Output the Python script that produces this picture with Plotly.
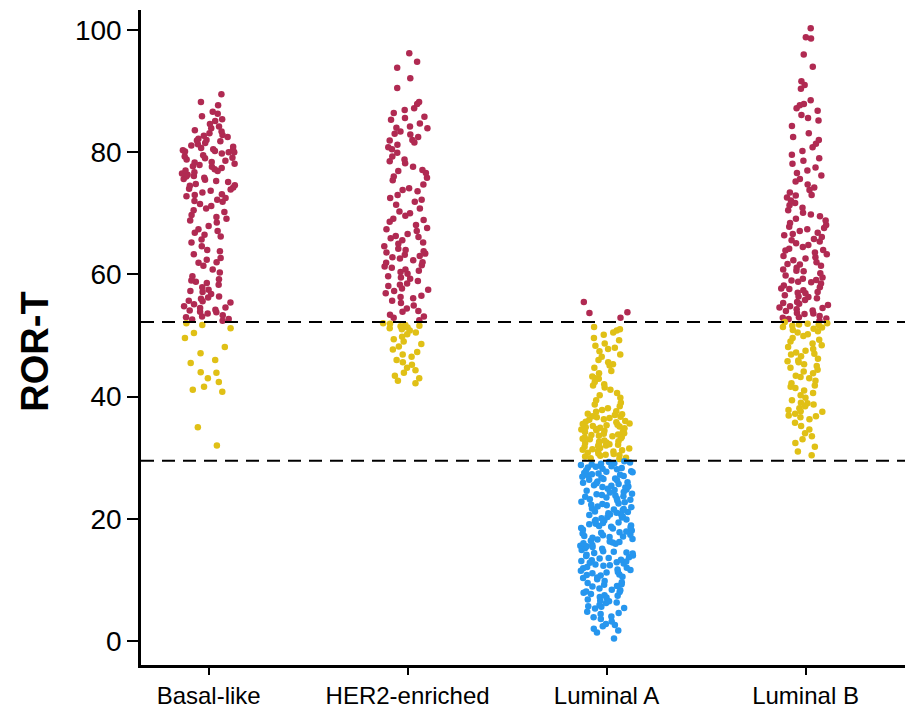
import plotly.graph_objects as go

categories = ["Basal-like", "HER2-enriched", "Luminal A", "Luminal B"]

basal_high = [89.5, 88.2, 87.7, 86.6, 86.3, 85.9, 85.4, 85.1,
              84.6, 84.2, 83.9, 83.6, 83.1, 82.8, 82.5, 82.2, 82.0, 81.8, 81.5, 81.3, 81.1, 80.9, 80.7, 80.5,
              80.3, 80.2, 80.0, 80.0, 80.1, 80.4, 81.9, 82.7, 83.4,
              79.8, 79.5, 79.3, 79.0, 78.8, 78.6, 78.3, 78.1, 77.9, 77.6, 77.4, 77.2, 77.0, 76.7, 76.5, 76.3,
              76.0, 75.8, 75.5, 75.3, 75.1, 79.1, 78.4, 77.7, 76.9, 76.1, 75.6,
              74.8, 74.5, 74.2, 74.0, 73.7, 73.4, 73.1, 72.8, 72.5, 72.2, 71.9, 71.5, 71.2, 70.8, 70.5, 70.2,
              74.6, 73.9, 73.0, 72.0,
              69.7, 69.1, 68.5, 67.9, 67.4, 66.8, 66.2, 65.7, 65.2, 68.8, 67.1, 69.4, 66.5,
              64.6, 64.0, 63.3, 62.7, 62.0, 61.4, 60.8, 60.3, 63.8, 61.9, 62.4,
              59.7, 59.2, 58.8, 58.3, 57.9, 57.5, 57.1, 56.8, 56.4, 56.0, 55.7, 55.4, 55.1, 58.6, 57.3, 56.2,
              55.6, 59.0,
              54.8, 54.5, 54.2, 53.9, 53.6, 53.3, 53.0, 52.7, 52.4, 54.6, 53.8, 53.1, 52.6, 54.1]
basal_mid = [52.0, 51.7, 51.2, 50.4, 49.6, 48.1, 47.1, 46.0, 45.5, 44.0, 43.9, 43.0, 42.4, 41.6,
             41.1, 40.8, 35.0, 32.0]
basal_low = []

her2_high = [96.2, 94.8, 93.8, 92.1, 90.5,
             88.2, 87.9, 87.2, 86.4, 85.8, 85.3, 86.9, 85.6,
             84.7, 84.2, 83.9, 83.4, 82.9, 82.5, 82.0, 81.6, 81.2, 80.8, 84.0, 83.0, 81.9, 80.5,
             79.9, 79.3, 78.8, 78.2, 77.6, 77.1, 76.6, 76.0, 75.4, 78.5, 76.9, 75.8,
             74.7, 74.1, 73.6, 73.0, 72.5, 71.9, 71.4, 70.8, 70.3, 73.8, 72.2, 70.0,
             69.6, 69.1, 68.6, 68.1, 67.6, 67.1, 66.6, 66.1, 65.6, 65.2, 68.9, 67.4, 66.3, 65.9, 65.0,
             64.6, 64.2, 63.8, 63.4, 63.0, 62.6, 62.3, 61.9, 61.5, 61.1, 60.8, 60.4, 60.1, 64.0, 63.2,
             62.0, 61.3, 60.6, 63.6, 62.8,
             59.7, 59.3, 58.9, 58.5, 58.1, 57.7, 57.3, 56.9, 56.5, 56.1, 55.7, 55.3, 59.5, 58.3, 57.5, 56.3,
             54.9, 54.4, 53.9, 53.4, 52.9, 52.5, 54.0, 53.1]
her2_mid = [52.0, 51.9, 51.7, 51.6, 51.5, 51.3, 51.2, 51.0, 50.8, 50.5, 50.2, 49.8, 49.4, 49.0,
            48.6, 48.2, 47.7, 47.3, 46.9, 46.5, 46.0, 45.6, 45.2, 44.7, 44.3, 43.9, 43.4, 43.0, 42.6, 42.2]
her2_low = []

luma_high = [55.5, 53.8, 53.7, 52.9]
luma_mid = [51.4, 51.0, 50.5, 50.1, 49.6, 49.2, 48.7, 48.3, 47.8, 47.4, 46.9, 46.5, 46.0, 45.6, 45.1,
            44.7, 44.2, 43.8, 43.3, 42.9, 42.4, 42.0, 41.5, 41.1, 40.6, 40.2, 50.8, 48.0, 45.3, 43.0, 41.8,
            39.8, 39.4, 39.0, 38.7, 38.4, 38.1, 37.8, 37.5, 37.2, 37.0, 36.7, 36.5, 36.2, 36.0, 35.8,
            35.6, 35.4, 35.2, 35.0, 34.8, 34.6, 34.4, 34.2, 34.0, 33.8, 33.6, 33.4, 33.2, 33.0, 32.8,
            32.6, 32.4, 32.2, 32.0, 31.8, 31.6, 31.4, 31.2, 31.0, 30.8, 30.6, 30.4, 30.2, 30.0, 29.8,
            37.6, 37.1, 36.6, 36.3, 35.9, 35.5, 35.1, 34.7, 34.3, 33.9, 33.5, 33.1, 32.7, 32.3, 31.9,
            31.5, 31.1, 30.7, 30.3, 29.9, 36.8, 35.3, 34.5, 33.3, 32.5, 31.3, 30.5, 34.9, 33.7, 32.1]
luma_low = [29.4, 29.2, 29.1, 29.0, 28.8, 28.7, 28.5, 28.4, 28.2, 28.1, 27.9, 27.8, 27.6, 27.5, 27.3,
            27.2, 27.0, 26.9, 26.7, 26.6, 26.4, 26.3, 26.1, 26.0, 25.8, 25.7, 25.5, 25.4, 25.2, 25.1,
            29.3, 28.9, 28.3, 27.7, 27.1, 26.5, 25.9, 25.3, 28.6, 27.4,
            24.9, 24.7, 24.6, 24.4, 24.3, 24.1, 23.9, 23.8, 23.6, 23.5, 23.3, 23.1, 23.0, 22.8, 22.7,
            22.5, 22.3, 22.2, 22.0, 21.9, 21.7, 21.5, 21.4, 21.2, 21.1, 20.9, 20.7, 20.6, 20.4, 20.3,
            20.1, 24.8, 24.0, 23.2, 22.4, 21.6, 20.8, 20.2, 23.7, 21.0,
            19.9, 19.7, 19.6, 19.4, 19.2, 19.1, 18.9, 18.7, 18.6, 18.4, 18.2, 18.1, 17.9, 17.7, 17.6,
            17.4, 17.2, 17.1, 16.9, 16.7, 16.6, 16.4, 16.2, 16.1, 15.9, 15.7, 15.6, 15.4, 15.2, 15.1,
            19.3, 18.5, 17.8, 17.0, 16.3, 15.5, 18.8, 17.3, 16.0, 19.8,
            14.9, 14.7, 14.5, 14.3, 14.1, 13.9, 13.7, 13.5, 13.3, 13.1, 12.9, 12.7, 12.5, 12.3, 12.1,
            11.9, 11.7, 11.5, 11.3, 11.1, 10.9, 10.7, 10.5, 10.3, 10.1, 14.4, 13.6, 12.8, 12.0, 11.2,
            10.4, 13.2, 11.6, 14.0, 12.4, 10.8, 14.6, 13.0,
            9.8, 9.5, 9.2, 8.9, 8.6, 8.3, 8.0, 7.7, 7.4, 7.1, 6.8, 6.5, 6.2, 5.9, 5.6, 5.3, 9.0, 8.1,
            7.2, 6.3, 5.4, 9.6, 8.4, 7.5, 6.6, 5.7, 9.3, 7.9,
            4.8, 4.4, 4.0, 3.6, 3.2, 2.8, 2.4, 2.0, 1.7, 1.4, 3.9, 2.6, 0.4, 4.6]

lumb_high = [100.3, 98.8, 98.6, 96.0,
             94.0, 91.6, 91.0, 90.4,
             88.5, 87.7, 87.2, 86.8, 86.1, 85.6, 85.2, 87.9,
             84.3, 83.1, 82.5, 82.0, 81.4, 80.8, 80.2,
             79.6, 79.0, 78.6, 78.1, 77.5, 77.0, 76.6, 76.2, 75.6, 75.2,
             74.7, 74.2, 73.8, 73.4, 73.0, 72.6, 72.1, 71.7, 71.3, 70.9, 70.5, 70.1, 72.9,
             69.8, 69.5, 69.1, 68.8, 68.4, 68.1, 67.8, 67.4, 67.1, 66.8, 66.4, 66.1, 65.8, 65.4, 65.1,
             67.6, 66.6, 65.6,
             64.8, 64.5, 64.2, 63.9, 63.6, 63.3, 63.0, 62.6, 62.3, 62.0, 61.7, 61.4, 61.1, 60.8, 60.5,
             60.2, 64.0, 62.8, 61.6, 60.6,
             59.8, 59.5, 59.3, 59.0, 58.7, 58.5, 58.2, 57.9, 57.7, 57.4, 57.1, 56.9, 56.6, 56.3, 56.1,
             55.8, 55.5, 55.3, 55.0, 58.8, 57.6, 56.4, 55.2, 59.1, 57.0,
             54.8, 54.5, 54.3, 54.0, 53.7, 53.5, 53.2, 52.9, 52.7, 52.4, 54.6, 53.6, 52.8, 54.1, 53.0]
lumb_mid = [52.2, 52.0, 51.9, 51.7, 51.6, 51.4, 51.3, 51.1, 50.9, 50.7, 50.5, 50.2, 49.9, 49.6, 49.3,
            49.0, 48.7, 48.4, 48.1, 51.8,
            47.8, 47.5, 47.2, 46.9, 46.6, 46.2, 45.9, 45.6, 45.3, 45.0, 44.7, 44.4, 44.1, 47.0, 45.8,
            43.8, 43.4, 43.0, 42.6, 42.2, 41.8, 41.4, 41.0, 40.6, 40.2, 43.2, 41.6,
            39.8, 39.4, 39.0, 38.7, 38.4, 38.1, 37.8, 37.5, 37.2, 36.9, 36.6, 36.3, 38.9, 37.6, 36.8,
            35.7, 35.2, 34.6, 34.0, 33.5, 33.0, 32.4, 31.8, 31.0, 30.4]
lumb_low = []

upper_cut = 52.2
lower_cut = 29.5
y_ticks = [0, 20, 40, 60, 80, 100]

groups = {
    "Basal-like": (basal_high, basal_mid, basal_low),
    "HER2-enriched": (her2_high, her2_mid, her2_low),
    "Luminal A": (luma_high, luma_mid, luma_low),
    "Luminal B": (lumb_high, lumb_mid, lumb_low),
}
colors = ["#B02A52", "#E0C016", "#2696EE"]

fig = go.Figure()
for cat in categories:
    for vals, col in zip(groups[cat], colors):
        if not vals:
            continue
        fig.add_trace(go.Box(
            x=[cat] * len(vals), y=vals,
            boxpoints="all", jitter=1, pointpos=0, width=0.27,
            fillcolor="rgba(0,0,0,0)", line=dict(width=0, color="rgba(0,0,0,0)"),
            marker=dict(color=col, size=6.5, line=dict(width=0)),
            hoveron="points", showlegend=False,
        ))

for yv in (upper_cut, lower_cut):
    fig.add_shape(type="line", xref="paper", yref="y", x0=0, x1=1, y0=yv, y1=yv,
                  line=dict(color="black", width=2, dash="13px,8px"))

fig.add_annotation(text="<b>ROR-T</b>", xref="paper", yref="paper", x=-0.139, y=0.478,
                   textangle=-90, showarrow=False, xanchor="center", yanchor="middle",
                   font=dict(family="Liberation Sans, Arial", size=38, color="black"))

fig.update_layout(
    width=908, height=712,
    margin=dict(l=141, r=3, t=10, b=47, autoexpand=False),
    paper_bgcolor="white", plot_bgcolor="white",
    boxmode="overlay",
    font=dict(family="Liberation Sans, Arial", size=24, color="black"),
)
fig.update_xaxes(type="category", categoryorder="array", categoryarray=categories,
                 range=[-0.34, 3.5], showline=True, linecolor="black", linewidth=2.5,
                 ticks="outside", ticklen=7, tickwidth=2, tickcolor="black", automargin=False,
                 showgrid=False, zeroline=False, tickfont=dict(size=24))
fig.update_yaxes(range=[-3.93, 103.27], tickvals=y_ticks, showline=True, linecolor="black",
                 linewidth=2.5, ticks="outside", ticklen=11, tickwidth=2, tickcolor="black",
                 automargin=False, showgrid=False, zeroline=False, tickfont=dict(size=28))

fig.write_html("out.html")
